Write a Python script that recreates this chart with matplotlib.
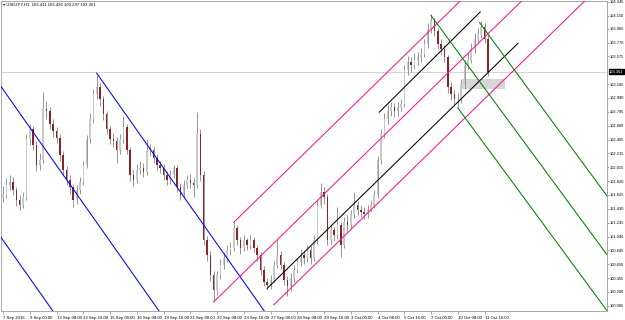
import matplotlib
matplotlib.use('Agg')
import matplotlib.pyplot as plt
from matplotlib.patches import Rectangle
import matplotlib.transforms as mtransforms

plt.rcParams['font.family'] = ['Liberation Sans', 'DejaVu Sans']

# USDJPY 4-hour bars (open = previous close)
first_open = 101.60
closes = [101.63, 101.77, 101.81, 101.70, 101.56, 101.49, 101.59, 102.41, 102.55, 102.33,
          102.05, 102.12, 102.83, 102.80, 102.62, 102.52, 102.43, 102.19, 101.98, 101.84,
          101.73, 101.56, 101.70, 101.81, 102.05, 102.41, 102.69, 103.04, 103.14, 102.97,
          102.76, 102.55, 102.41, 102.38, 102.26, 102.41, 102.58, 102.26, 101.91, 101.84,
          101.98, 102.01, 101.95, 102.26, 102.26, 102.15, 102.05, 102.01, 101.91, 101.84,
          101.91, 102.01, 101.73, 101.63, 101.77, 101.84, 101.80, 101.77, 102.48, 101.91,
          100.99, 100.78, 100.50, 100.29, 100.50, 100.64, 100.74, 100.85, 100.88, 101.16,
          100.99, 100.88, 100.99, 100.92, 100.99, 100.88, 100.78, 100.57, 100.40, 100.36,
          100.43, 100.64, 100.78, 100.64, 100.43, 100.34, 100.46, 100.57, 100.68, 100.78,
          100.74, 100.85, 100.74, 100.99, 101.49, 101.67, 101.59, 100.99, 101.13, 101.06,
          101.20, 100.92, 101.25, 101.20, 101.35, 101.49, 101.42, 101.39, 101.35, 101.42,
          101.49, 101.63, 102.12, 102.48, 102.69, 102.80, 102.86, 102.80, 102.86, 102.90,
          103.39, 103.49, 103.45, 103.53, 103.56, 103.61, 103.75, 103.96, 104.07, 103.93,
          103.75, 103.68, 103.56, 103.14, 103.04, 102.97, 102.97, 103.18, 103.46, 103.53,
          103.68, 103.82, 103.89, 103.99, 103.82, 103.361]
highs = [101.75, 101.86, 101.90, 101.88, 101.74, 101.62, 101.66, 102.48, 102.62, 102.60,
         102.38, 102.22, 103.07, 102.95, 102.86, 102.70, 102.58, 102.48, 102.24, 102.03,
         101.90, 101.78, 101.76, 101.88, 102.10, 102.47, 102.78, 103.12, 103.32, 103.20,
         103.02, 102.80, 102.60, 102.50, 102.44, 102.48, 102.73, 102.62, 102.30, 101.98,
         102.06, 102.10, 102.08, 102.41, 102.34, 102.30, 102.20, 102.10, 102.06, 101.96,
         101.98, 102.05, 102.04, 101.80, 101.84, 101.90, 101.92, 101.86, 102.79, 102.55,
         101.96, 101.05, 100.84, 100.56, 100.56, 100.72, 100.82, 100.92, 100.96, 101.25,
         101.20, 101.04, 101.06, 101.02, 101.06, 101.04, 100.92, 100.82, 100.62, 100.46,
         100.50, 100.70, 100.99, 100.84, 100.68, 100.48, 100.52, 100.64, 100.74, 100.86,
         100.84, 100.92, 100.90, 101.06, 101.56, 101.80, 101.74, 101.64, 101.22, 101.18,
         101.46, 101.24, 101.32, 101.34, 101.42, 101.66, 101.54, 101.48, 101.46, 101.48,
         101.56, 101.70, 102.18, 102.56, 102.78, 102.90, 102.94, 102.92, 102.94, 102.98,
         103.46, 103.58, 103.56, 103.62, 103.64, 103.70, 103.82, 104.04, 104.17, 104.12,
         103.98, 103.82, 103.74, 103.60, 103.22, 103.10, 103.06, 103.24, 103.52, 103.62,
         103.76, 103.90, 103.98, 104.07, 104.04, 103.88]
lows = [101.52, 101.58, 101.70, 101.62, 101.47, 101.42, 101.44, 101.55, 102.33, 102.26,
        101.96, 101.98, 102.08, 102.70, 102.55, 102.44, 102.36, 102.10, 101.90, 101.76,
        101.64, 101.46, 101.50, 101.64, 101.76, 102.00, 102.36, 102.64, 102.98, 102.88,
        102.68, 102.48, 102.34, 102.30, 102.08, 102.20, 102.36, 102.20, 101.82, 101.75,
        101.80, 101.92, 101.88, 101.90, 102.18, 102.08, 101.98, 101.94, 101.84, 101.76,
        101.78, 101.86, 101.66, 101.55, 101.58, 101.72, 101.72, 101.60, 101.72, 101.82,
        100.92, 100.70, 100.42, 100.12, 100.22, 100.44, 100.58, 100.68, 100.78, 100.84,
        100.92, 100.80, 100.84, 100.85, 100.86, 100.82, 100.70, 100.50, 100.34, 100.29,
        100.30, 100.40, 100.60, 100.58, 100.36, 100.20, 100.28, 100.40, 100.52, 100.62,
        100.66, 100.68, 100.66, 100.70, 100.94, 101.44, 101.50, 100.92, 100.94, 100.98,
        101.00, 100.75, 100.88, 101.12, 101.14, 101.30, 101.34, 101.32, 101.28, 101.30,
        101.38, 101.44, 101.58, 102.06, 102.42, 102.62, 102.74, 102.72, 102.74, 102.80,
        102.86, 103.32, 103.36, 103.40, 103.46, 103.50, 103.56, 103.70, 103.90, 103.86,
        103.68, 103.60, 103.50, 103.06, 102.96, 102.87, 102.86, 102.92, 103.12, 103.40,
        103.48, 103.62, 103.76, 103.84, 103.76, 103.30]

date_labels = ['7 Sep 2016', '9 Sep 00:00', '12 Sep 08:00', '13 Sep 16:00', '15 Sep 00:00',
               '16 Sep 08:00', '19 Sep 16:00', '21 Sep 00:00', '22 Sep 08:00', '23 Sep 16:00',
               '27 Sep 00:00', '28 Sep 08:00', '29 Sep 16:00', '3 Oct 00:00', '4 Oct 08:00',
               '5 Oct 16:00', '7 Oct 00:00', '10 Oct 08:00', '11 Oct 16:00']
price_ticks = [104.345, 104.150, 103.965, 103.770, 103.575, 103.185, 102.990, 102.795,
               102.600, 102.405, 102.215, 102.015, 101.820, 101.625, 101.430, 101.235,
               101.040, 100.845, 100.650, 100.455, 100.260, 100.065]
last_price = 103.361
header = '\u25be USDJPY,H1  103.411 103.426 103.297 103.361'

# trendline anchors: (bar0, price0, bar1, price1)
blue_lines = [(0, 103.110, 30, 101.105), (28, 103.34, 58, 101.336), (0, 100.988, 10, 100.320)]
pink_lines = [(69, 101.24, 100, 102.666), (63, 100.12, 94, 101.546), (81, 100.08, 112, 101.506)]
black_lines = [(79, 100.31, 154, 103.76), (112.5, 102.79, 142.7, 104.20)]
green_lines = [(128, 104.15, 158, 102.23), (142.5, 104.05, 172.5, 102.13), (136, 102.85, 166, 100.93)]
zone = (137, 103.11, 150, 103.25)

opens = [first_open] + closes[:-1]
n = len(closes)

fig = plt.figure(figsize=(6.25, 3.2), dpi=100)
ax = fig.add_axes([0.0016, 0.028, 0.9696, 0.9703])
ax.set_xlim(-0.6, 180.6)
ax.set_ylim(99.991, 104.361)

# current price line
ax.axhline(last_price, color='#d4d4d4', lw=0.7, zorder=1)

# zone box
ax.add_patch(Rectangle((zone[0], zone[1]), zone[2] - zone[0], zone[3] - zone[1],
                       facecolor='#d6d6d6', edgecolor='none', zorder=1))

# candles
for i in range(n):
    o, c, h, l = opens[i], closes[i], highs[i], lows[i]
    ax.vlines(i, l, h, color='#858585', lw=0.6, zorder=2)
    bottom = min(o, c)
    height = max(abs(c - o), 0.01)
    col = '#c9c9c9' if c >= o else '#8b2525'
    ax.bar(i, height, bottom=bottom, width=0.45, color=col, zorder=3, linewidth=0)


def ray(b0, p0, b1, p1, left=False, right=True):
    k = (p1 - p0) / (b1 - b0)
    xs = -10 if left else b0
    xe = 200 if right else b1
    return [xs, xe], [p0 + k * (xs - b0), p0 + k * (xe - b0)]


for j, (b0, p0, b1, p1) in enumerate(blue_lines):
    xx, yy = ray(b0, p0, b1, p1, left=(j != 1))
    ax.plot(xx, yy, color='#0000ff', lw=0.75, zorder=4)
for b0, p0, b1, p1 in pink_lines:
    xx, yy = ray(b0, p0, b1, p1)
    ax.plot(xx, yy, color='#ff1493', lw=0.75, zorder=4)
for b0, p0, b1, p1 in black_lines:
    xx, yy = ray(b0, p0, b1, p1, right=False)
    ax.plot(xx, yy, color='black', lw=0.75, zorder=4)
for b0, p0, b1, p1 in green_lines:
    xx, yy = ray(b0, p0, b1, p1)
    ax.plot(xx, yy, color='#008000', lw=0.75, zorder=4)

# axes styling
for s in ax.spines.values():
    s.set_color('#9a9a9a')
    s.set_linewidth(0.6)

ax.set_xticks([8 * k for k in range(len(date_labels))])
ax.set_xticklabels(date_labels, fontsize=3.1, ha='left')
ax.tick_params(axis='x', length=2, width=0.5, color='#808080', pad=1.5)

ax.yaxis.tick_right()
ax.set_yticks(price_ticks)
ax.set_yticklabels(['%.3f' % v for v in price_ticks], fontsize=2.9)
ax.tick_params(axis='y', length=1.5, width=0.5, color='#808080', pad=0.8)

trans = mtransforms.blended_transform_factory(ax.transAxes, ax.transData)
ax.text(1.0035, last_price, '%.3f' % last_price, transform=trans, fontsize=2.9,
        color='white', va='center', ha='left',
        bbox=dict(boxstyle='square,pad=0.12', facecolor='black', edgecolor='black'))

ax.text(0.004, 0.992, header, transform=ax.transAxes, fontsize=3.1, va='top', ha='left')

fig.savefig('out.png', dpi=100)
